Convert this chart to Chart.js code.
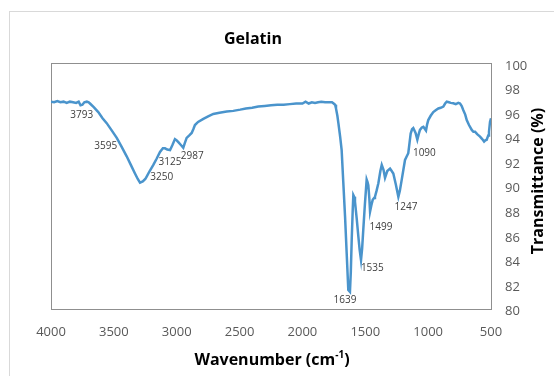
<!DOCTYPE html>
<html><head><meta charset="utf-8">
<script src="https://cdn.jsdelivr.net/npm/chart.js@4"></script>
<style>html,body{margin:0;padding:0;background:#fff;overflow:hidden}#wrap{width:554px;height:376px}</style>
</head><body><div id="wrap"><canvas id="c" width="554" height="376"></canvas></div>
<script>
const chartTitle = 'Gelatin';
const xTitle = 'Wavenumber (cm';
const xTitleSup = '-1';
const xTitleEnd = ')';
const yTitle = 'Transmittance (%)';

const wavenumbers = [4000,3975,3950,3925,3900,3875,3850,3825,3800,3780,3765,3750,3735,3715,3700,3690,3660,3624,3590,3557,3520,3477,3440,3398,3365,3332,3310,3292,3270,3250,3239,3215,3186,3160,3133,3110,3093,3075,3053,3035,3014,3000,2987,2965,2948,2935,2921,2900,2881,2868,2855,2830,2788,2750,2709,2660,2602,2550,2495,2450,2400,2351,2300,2250,2200,2150,2100,2050,2000,1975,1950,1925,1900,1875,1850,1820,1790,1765,1754,1740,1733,1722,1714,1700,1688,1675,1661,1648,1635,1622,1615,1608,1600,1595,1588,1582,1568,1555,1545,1534,1525,1516,1503,1489,1482,1476,1468,1462,1452,1441,1430,1423,1410,1396,1380,1369,1355,1343,1325,1303,1290,1277,1257,1237,1225,1210,1197,1184,1170,1158,1148,1139,1128,1118,1100,1086,1075,1065,1050,1038,1027,1017,1008,999,980,959,940,919,900,879,865,852,835,820,800,780,760,746,733,720,705,693,675,653,640,627,610,587,570,555,545,534,522,516,508,500];
const transmittance = [96.85,96.8,96.9,96.8,96.85,96.75,96.85,96.8,96.75,96.85,96.55,96.6,96.8,96.85,96.8,96.7,96.4,96.0,95.5,95.1,94.55,93.9,93.2,92.4,91.7,91.0,90.55,90.25,90.35,90.55,90.75,91.2,91.7,92.2,92.75,93.05,93.05,92.95,92.9,93.3,93.8,93.7,93.55,93.3,93.1,93.5,93.9,94.1,94.3,94.6,94.95,95.2,95.45,95.65,95.85,95.95,96.05,96.1,96.2,96.3,96.35,96.45,96.5,96.55,96.6,96.6,96.65,96.7,96.7,96.85,96.7,96.8,96.75,96.8,96.85,96.8,96.8,96.8,96.72,96.6,96.3,95.7,95.1,94.0,92.9,90.3,87.5,84.5,81.5,81.35,83.0,85.6,88.0,89.25,89.1,88.7,87.3,85.85,84.8,83.95,84.9,86.4,88.5,90.5,90.3,90.05,89.0,87.9,88.4,88.85,89.0,89.1,89.6,90.2,91.2,91.7,91.3,90.65,91.2,91.4,91.2,91.0,90.1,89.1,89.6,90.5,91.3,92.1,92.4,92.65,93.5,94.25,94.6,94.7,94.3,93.75,94.2,94.55,94.75,94.8,94.65,94.5,95.0,95.35,95.7,96.0,96.15,96.3,96.35,96.45,96.7,96.85,96.8,96.75,96.72,96.65,96.75,96.7,96.5,96.15,95.8,95.35,94.95,94.55,94.4,94.4,94.2,94.0,93.8,93.6,93.7,93.75,94.1,94.4,95.2,95.5];

const xTickValues = [4000,3500,3000,2500,2000,1500,1000,500];
const yTickValues = [80,82,84,86,88,90,92,94,96,98,100];

const peakLabels = ['3793','3595','3250','3125','2987','1639','1535','1499','1247','1090'];
const peakLabelX = [3756,3565,3119,3053,2876,1661,1444,1375,1176,1030];
const peakLabelY = [95.76,93.26,90.74,91.96,92.42,80.69,83.27,86.66,88.29,92.64];

const FONT = '"Open Sans", "Liberation Sans", sans-serif';

const decor = {
  id: 'decor',
  beforeDraw(chart) {
    const ctx = chart.ctx;
    ctx.save();
    ctx.fillStyle = '#fff';
    ctx.fillRect(0, 0, chart.width, chart.height);
    ctx.strokeStyle = '#d9d9d9';
    ctx.lineWidth = 1;
    ctx.strokeRect(9.5, 11.5, 600, 400);
    ctx.restore();
  },
  beforeDatasetsDraw(chart) {
    const ctx = chart.ctx, a = chart.chartArea;
    ctx.save();
    ctx.strokeStyle = '#8f8f8f';
    ctx.lineWidth = 1;
    ctx.strokeRect(Math.round(a.left) + 0.5, Math.round(a.top) + 0.5, Math.round(a.right - a.left), Math.round(a.bottom - a.top));
    ctx.restore();
  },
  afterDatasetsDraw(chart) {
    const ctx = chart.ctx, xs = chart.scales.x, ys = chart.scales.y;
    ctx.save();
    ctx.fillStyle = '#404040';
    ctx.font = '10px ' + FONT;
    ctx.textAlign = 'center';
    ctx.textBaseline = 'middle';
    peakLabels.forEach((t, i) => {
      ctx.fillText(t, xs.getPixelForValue(peakLabelX[i]), ys.getPixelForValue(peakLabelY[i]));
    });
    ctx.fillStyle = '#000';
    ctx.font = 'bold 16px ' + FONT;
    ctx.fillText(chartTitle, 253, 39);
    const mainFont = 'bold 16px ' + FONT, supFont = 'bold 10px ' + FONT;
    ctx.font = mainFont; const w1 = ctx.measureText(xTitle).width; const w3 = ctx.measureText(xTitleEnd).width;
    ctx.font = supFont; const w2 = ctx.measureText(xTitleSup).width;
    let x0 = 272 - (w1 + w2 + w3) / 2;
    ctx.textAlign = 'left';
    ctx.textBaseline = 'alphabetic';
    ctx.font = mainFont; ctx.fillText(xTitle, x0, 365);
    ctx.font = supFont; ctx.fillText(xTitleSup, x0 + w1, 358);
    ctx.font = mainFont; ctx.fillText(xTitleEnd, x0 + w1 + w2, 365);
    ctx.translate(538, 181);
    ctx.rotate(-Math.PI / 2);
    ctx.textAlign = 'center';
    ctx.textBaseline = 'middle';
    ctx.font = 'bold 16px ' + FONT;
    ctx.fillText(yTitle, 0, 0);
    ctx.restore();
  }
};

new Chart(document.getElementById('c'), {
  type: 'line',
  data: {
    datasets: [{
      data: wavenumbers.map((w, i) => ({ x: w, y: transmittance[i] })),
      borderColor: '#4a94cc',
      borderWidth: 2.5,
      pointRadius: 0,
      tension: 0,
      fill: false
    }]
  },
  options: {
    responsive: false,
    animation: false,
    devicePixelRatio: 1,
    layout: { padding: { left: 51, top: 63, right: 0, bottom: 0 } },
    plugins: { legend: { display: false }, title: { display: false }, tooltip: { enabled: false } },
    scales: {
      x: {
        type: 'linear', position: 'bottom', reverse: true, min: 500, max: 4000,
        grid: { display: false, drawTicks: false }, border: { display: false },
        afterBuildTicks: s => { s.ticks = xTickValues.map(v => ({ value: v })); },
        ticks: { color: '#595959', font: { family: FONT, size: 13 }, padding: 16, maxRotation: 0, autoSkip: false, callback: v => String(v) },
        afterFit: s => { s.height = 67.5; }
      },
      y: {
        type: 'linear', position: 'right', min: 80, max: 100,
        grid: { display: false, drawTicks: false }, border: { display: false },
        afterBuildTicks: s => { s.ticks = yTickValues.map(v => ({ value: v })); },
        ticks: { color: '#595959', font: { family: FONT, size: 13 }, padding: 14, labelOffset: 3, callback: v => String(v) },
        afterFit: s => { s.width = 63; }
      }
    }
  },
  plugins: [decor]
});
</script></body></html>
